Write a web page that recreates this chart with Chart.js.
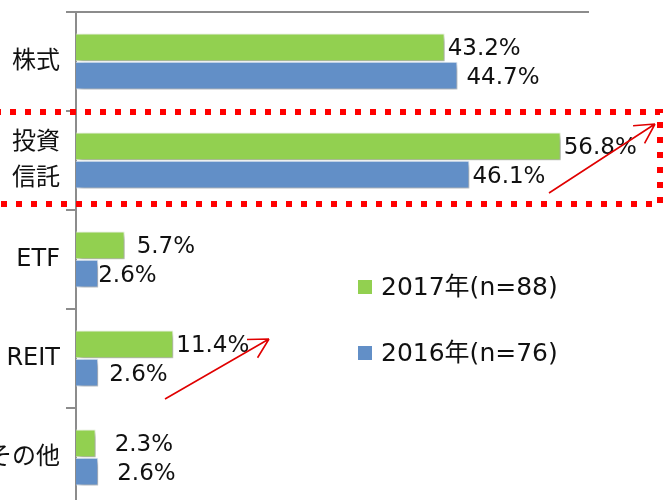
<!DOCTYPE html>
<html>
<head>
<meta charset="utf-8">
<script src="https://cdn.jsdelivr.net/npm/chart.js@4.4.0/dist/chart.umd.min.js"></script>
<style>
  html, body { margin: 0; padding: 0; background: #fff; overflow: hidden; }
  canvas { display: block; }
</style>
</head>
<body>
<canvas id="bar-chart" width="664" height="508"></canvas>
<script>
// 카테고리 / 계열 데이터
const categories = ['株式', ['投資', '信託'], 'ETF', 'REIT', 'その他'];
const seriesNames = ['2017年(n=88)', '2016年(n=76)'];
const values2017 = [43.2, 56.8, 5.7, 11.4, 2.3];
const values2016 = [44.7, 46.1, 2.6, 2.6, 2.6];
const seriesColors = ['#92D050', '#628FC7'];

// 값 라벨을 조금 옮겨놓은 것 (원본 엑셀에서 수동으로 옮긴 위치)
const labelNudge = [
  [0, 6],
  [0, 0],
  [9, -3],
  [0, 8],
  [16, 16]
];

const FONT = "'DejaVu Sans', 'Noto Sans CJK JP', sans-serif";
const axisGray = '#8c8c8c';

// 막대 그림자
const shadowPlugin = {
  id: 'barShadow',
  beforeDatasetDraw(chart) {
    const ctx = chart.ctx;
    ctx.save();
    ctx.shadowColor = 'rgba(0,0,0,0.35)';
    ctx.shadowBlur = 5;
    ctx.shadowOffsetX = 3;
    ctx.shadowOffsetY = 3;
  },
  afterDatasetDraw(chart) {
    chart.ctx.restore();
  }
};

// 값 라벨 (43.2% 등)
const valueLabelPlugin = {
  id: 'valueLabels',
  afterDatasetsDraw(chart) {
    const ctx = chart.ctx;
    ctx.save();
    ctx.font = '23px ' + FONT;
    ctx.fillStyle = '#111';
    ctx.textAlign = 'left';
    ctx.textBaseline = 'middle';
    chart.data.datasets.forEach((ds, di) => {
      chart.getDatasetMeta(di).data.forEach((bar, i) => {
        const nudge = labelNudge[i][di];
        ctx.fillText(ds.data[i].toFixed(1) + '%', bar.x + 3 + nudge, bar.y + 2);
      });
    });
    ctx.restore();
  }
};

// 범례 (차트 영역 안쪽)
const legendPlugin = {
  id: 'innerLegend',
  afterDraw(chart) {
    const ctx = chart.ctx;
    ctx.save();
    ctx.font = '25px ' + FONT;
    ctx.textBaseline = 'middle';
    chart.data.datasets.forEach((ds, i) => {
      const y = 287 + i * 66;
      ctx.fillStyle = ds.backgroundColor;
      ctx.fillRect(358, y - 7, 14, 14);
      ctx.fillStyle = '#111';
      ctx.fillText(ds.label, 381, y + 1);
    });
    ctx.restore();
  }
};

// 빨간 점선 박스와 화살표
const markupPlugin = {
  id: 'markup',
  afterDraw(chart) {
    const ctx = chart.ctx;
    const yScale = chart.scales.y;
    const step = yScale.getPixelForValue(1) - yScale.getPixelForValue(0);
    const boxTop = yScale.getPixelForValue(1) - step / 2;
    const boxBottom = yScale.getPixelForValue(1) + step / 2 - 6;

    ctx.save();
    ctx.strokeStyle = '#ff0000';
    ctx.lineWidth = 6;
    ctx.setLineDash([6, 9]);
    ctx.strokeRect(-20, boxTop + 1, 680, boxBottom - boxTop - 1);
    ctx.restore();

    const arrow = (x1, y1, x2, y2) => {
      ctx.save();
      ctx.strokeStyle = '#e00000';
      ctx.lineWidth = 1.6;
      ctx.beginPath();
      ctx.moveTo(x1, y1);
      ctx.lineTo(x2, y2);
      const ang = Math.atan2(y2 - y1, x2 - x1);
      const len = 22;
      [0.5, -0.5].forEach(d => {
        ctx.moveTo(x2, y2);
        ctx.lineTo(x2 - len * Math.cos(ang + d), y2 - len * Math.sin(ang + d));
      });
      ctx.stroke();
      ctx.restore();
    };
    arrow(549, 193, 655, 124);
    arrow(165, 399, 269, 339);
  }
};

const barChart = new Chart(document.getElementById('bar-chart'), {
  type: 'bar',
  data: {
    labels: categories,
    datasets: [
      {
        label: seriesNames[0],
        data: values2017,
        backgroundColor: seriesColors[0],
        borderColor: '#e8f4dc',
        borderWidth: 1
      },
      {
        label: seriesNames[1],
        data: values2016,
        backgroundColor: seriesColors[1],
        borderColor: '#dde7f3',
        borderWidth: 1
      }
    ]
  },
  plugins: [shadowPlugin, valueLabelPlugin, legendPlugin, markupPlugin],
  options: {
    indexAxis: 'y',
    responsive: false,
    animation: false,
    categoryPercentage: 0.57,
    barPercentage: 0.98,
    layout: {
      padding: { top: 12, right: 76, bottom: 1, left: 0 }
    },
    plugins: {
      legend: { display: false },
      tooltip: { enabled: false }
    },
    scales: {
      x: {
        position: 'top',
        min: 0,
        max: 60,
        ticks: { display: false },
        grid: { display: false, drawTicks: false },
        border: { display: true, color: axisGray, width: 2 }
      },
      y: {
        // 라벨 때문에 생기는 위아래 여백 제거, 폭 고정
        afterFit(scale) {
          scale.width = 76;
          scale.paddingTop = 0;
          scale.paddingBottom = 0;
        },
        ticks: {
          color: '#111',
          padding: 6,
          font: { family: FONT, size: 24, lineHeight: 1.5 }
        },
        grid: {
          drawOnChartArea: false,
          drawTicks: true,
          tickLength: 10,
          color: axisGray,
          lineWidth: 2
        },
        border: { display: true, color: axisGray, width: 2 }
      }
    }
  }
});
</script>
</body>
</html>
